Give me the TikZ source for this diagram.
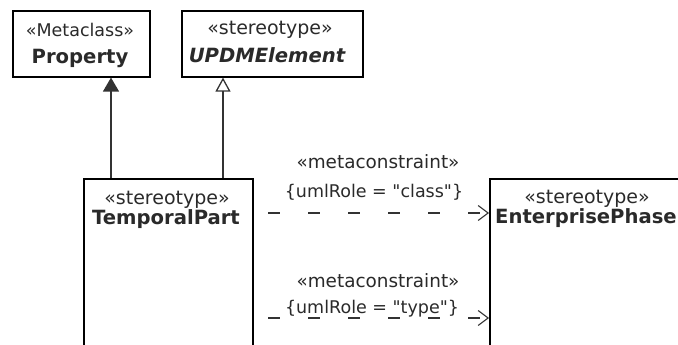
\documentclass[tikz,border=0pt]{standalone}
\usepackage{fontspec}
\setmainfont{DejaVu Sans}[Ligatures=TeXOff]
\usetikzlibrary{arrows.meta}
\definecolor{txt}{HTML}{2A2A2A}
\definecolor{lin}{HTML}{333333}
\tikzset{
  x=1pt, y=-1pt,
  umlbox/.style={draw=black, line width=1.6pt, fill=white, inner sep=0pt, anchor=north west},
  lbl/.style={inner sep=0pt, anchor=base, text=txt, font=\fontsize{19}{22}\selectfont},
  umlname/.style={lbl, font=\fontsize{19.6}{22}\selectfont\bfseries},
  cons/.style={lbl, font=\fontsize{18.4}{22}\selectfont},
  role/.style={lbl, font=\fontsize{17.5}{22}\selectfont},
  gen/.style={draw=lin, line width=1.3pt},
  dep/.style={draw=lin, line width=1.1pt, dash pattern=on 12pt off 28pt, -{Straight Barb[length=10pt,width=15pt,line width=1.1pt]}},
}
\begin{document}
\begin{tikzpicture}
\useasboundingbox (0,0) rectangle (678,345);
\clip (0,0) rectangle (678,345);
\fill[white] (0,0) rectangle (678,345);
% boxes
\node[umlbox, minimum width=137pt, minimum height=66pt] (prop) at (12,10) {};
\node[umlbox, minimum width=181pt, minimum height=66pt] (updm) at (181,10) {};
\node[umlbox, minimum width=169pt, minimum height=220pt] (tp) at (83,178) {};
\node[umlbox, minimum width=260pt, minimum height=220pt] (ep) at (489,178) {};
% texts
\node[lbl, font=\fontsize{17.5}{22}\selectfont] (propS) at (80,37) {«Metaclass»};
\node[umlname] (propN) at (80,64) {Property};
\node[lbl] (updmS) at (270,35) {«stereotype»};
\node[umlname, font=\fontsize{19.6}{22}\selectfont\bfseries\itshape] (updmN) at (267,63) {UPDMElement};
\node[lbl] (tpS) at (167,204) {«stereotype»};
\node[umlname] (tpN) at (166,224) {TemporalPart};
\node[lbl] (epS) at (587,203) {«stereotype»};
\node[umlname, anchor=base west] (epN) at (495,223) {EnterprisePhase};
% generalizations
\coordinate (g1) at (111,178);
\coordinate (g2) at (223,178);
\draw[gen, -{Triangle[length=14pt,width=16pt]}] (g1) -- (g1 |- prop.south);
\draw[gen, -{Triangle[open,length=14pt,width=15pt,fill=white]}] (g2) -- (g2 |- updm.south);
% dependencies
\coordinate (d1) at (268,213);
\coordinate (d2) at (268,318);
\draw[dep] (d1) -- (d1 -| ep.west);
\draw[dep] (d2) -- (d2 -| ep.west);
\node[cons] (c1a) at (378,168) {«metaconstraint»};
\node[role] (c1b) at (374,197) {\{umlRole = "class"\}};
\node[cons] (c2a) at (378,287) {«metaconstraint»};
\node[role] (c2b) at (372,313) {\{umlRole = "type"\}};
\end{tikzpicture}
\end{document}
